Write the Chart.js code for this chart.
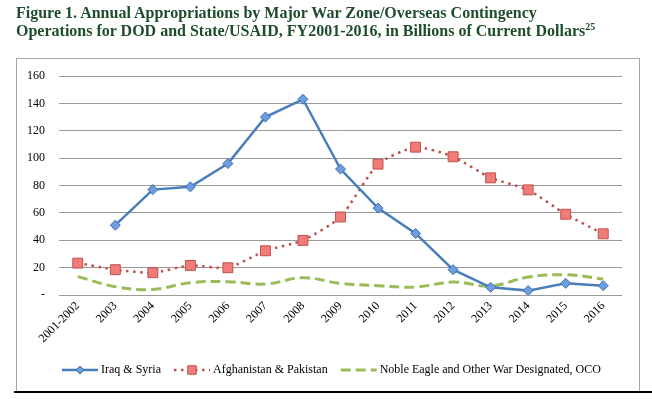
<!DOCTYPE html>
<html>
<head>
<meta charset="utf-8">
<script src="https://cdn.jsdelivr.net/npm/chart.js@4/dist/chart.umd.min.js"></script>
<style>
  html, body { margin: 0; padding: 0; background: #fff; }
  #wrap { position: relative; width: 652px; height: 399px; overflow: hidden; }
  #chart { position: absolute; left: 0; top: 0; }
  #title {
    position: absolute; left: 16px; top: 4px;
    font: bold 16px "Liberation Serif", serif; line-height: 18px;
    color: #1e4d2b; white-space: nowrap;
  }
  #title sup { font-size: 10px; line-height: 0; vertical-align: 6px; }
</style>
</head>
<body>
<div id="wrap">
  <canvas id="chart" width="652" height="399"></canvas>
  <div id="title">Figure 1. Annual Appropriations by Major War Zone/Overseas Contingency<br>Operations for DOD and State/USAID, FY2001-2016, in Billions of Current Dollars<sup>25</sup></div>
</div>
<script>
/* ─── Données (milliards $ courants) ─────────────────────────────────── */
const years = ['2001-2002', '2003', '2004', '2005', '2006', '2007', '2008', '2009',
               '2010', '2011', '2012', '2013', '2014', '2015', '2016'];
const iraqSyria   = [null, 51, 77, 79, 96, 130, 143, 92, 63.5, 45, 18.5, 5.6, 3.2, 8.5, 6.8];
const afghanPak   = [23.3, 18.5, 16.3, 21.6, 19.9, 32.3, 39.9, 57, 95.6, 108, 101, 85.6, 76.8, 59, 44.7];
const nobleEagle  = [13.4, 6.1, 4.1, 9, 9.7, 8, 12.6, 8.5, 6.8, 5.8, 9.5, 6.6, 13.1, 14.8, 11.7];
const yTicks      = [0, 20, 40, 60, 80, 100, 120, 140, 160];

const SERIF = '"Liberation Serif", "Times New Roman", serif';

/* ─── Cadre + légende façon Excel ───────────────────────────────────── */
const framePlugin = {
  id: 'frame',
  beforeDraw(chart) {
    const ctx = chart.ctx;
    ctx.save();
    ctx.strokeStyle = '#a6a6a6';
    ctx.lineWidth = 1;
    ctx.strokeRect(16.5, 58.5, 623, 333);
    ctx.fillStyle = '#000';
    ctx.fillRect(14, 391, 638, 2);
    ctx.restore();
  },
  afterDraw(chart) {
    const ctx = chart.ctx;
    const y = 370;
    let x = 62;
    ctx.save();
    ctx.font = '12px ' + SERIF;
    ctx.textBaseline = 'middle';
    chart.data.datasets.forEach(ds => {
      const len = 36;
      ctx.strokeStyle = ds.borderColor;
      ctx.lineWidth = ds.borderWidth;
      ctx.setLineDash(ds.borderDash || []);
      ctx.beginPath();
      ctx.moveTo(x, y); ctx.lineTo(x + len, y);
      ctx.stroke();
      ctx.setLineDash([]);
      if (ds.pointRadius > 0) {
        // drawPoint prend les couleurs courantes du contexte
        ctx.fillStyle = ds.pointBackgroundColor;
        ctx.strokeStyle = ds.pointBorderColor;
        ctx.lineWidth = 1;
        Chart.helpers.drawPoint(ctx, {
          pointStyle: ds.pointStyle, radius: ds.pointRadius - 1, borderWidth: 1
        }, x + len / 2, y);
      }
      ctx.fillStyle = '#000';
      ctx.fillText(ds.label, x + len + 3, y);
      x += len + 3 + ctx.measureText(ds.label).width + 13;
    });
    ctx.restore();
  }
};

new Chart(document.getElementById('chart'), {
  type: 'line',
  data: {
    labels: years,
    datasets: [
      {
        label: 'Iraq & Syria',
        data: iraqSyria,
        borderColor: '#4a7ebb',
        borderWidth: 2.5,
        pointStyle: 'rectRot',
        pointRadius: 5,
        pointBackgroundColor: '#6d9de0',
        pointBorderColor: '#3d6db0',
        pointBorderWidth: 1,
        tension: 0,
      },
      {
        label: 'Afghanistan & Pakistan',
        data: afghanPak,
        borderColor: '#c0504d',
        borderWidth: 2.5,
        borderDash: [2.5, 4.5],
        pointStyle: 'rect',
        pointRadius: 7,
        pointBackgroundColor: '#f07c7a',
        pointBorderColor: '#c0504d',
        pointBorderWidth: 1,
        tension: 0.2,
      },
      {
        label: 'Noble Eagle and Other War Designated, OCO',
        data: nobleEagle,
        borderColor: '#9bbb59',
        borderWidth: 3,
        borderDash: [10, 5],
        pointRadius: 0,
        tension: 0.4,
      }
    ]
  },
  options: {
    responsive: false,
    animation: false,
    layout: { padding: { left: 0, right: 30, top: 76, bottom: 49 } },
    plugins: { legend: { display: false }, title: { display: false }, tooltip: { enabled: false } },
    scales: {
      x: {
        offset: true,
        grid: { display: false, drawTicks: false },
        border: { display: false },
        ticks: {
          autoSkip: false, minRotation: 45, maxRotation: 45, padding: 4,
          color: '#000', font: { family: SERIF, size: 12 }
        },
        afterFit: s => { s.height = 55; }
      },
      y: {
        min: 0, max: 160,
        afterBuildTicks: s => { s.ticks = yTicks.map(v => ({ value: v })); },
        grid: { color: '#9a9a9a', lineWidth: 1, drawTicks: false },
        border: { display: false },
        ticks: {
          padding: 14, color: '#000', font: { family: SERIF, size: 12 },
          callback: v => v === 0 ? '-' : v
        },
        afterFit: s => { s.width = 59; }
      }
    }
  },
  plugins: [framePlugin]
});
</script>
</body>
</html>
